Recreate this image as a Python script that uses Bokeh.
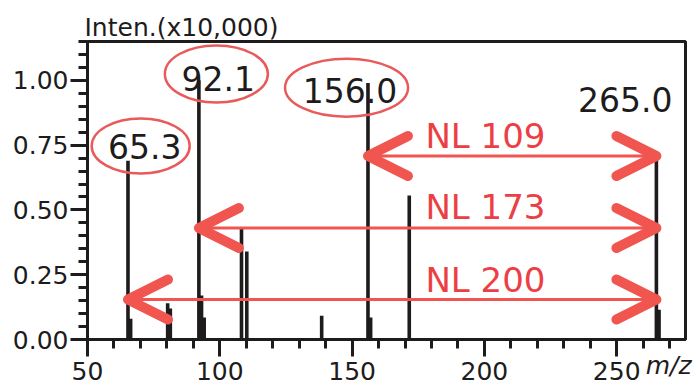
from bokeh.plotting import figure
from bokeh.models import (SingleIntervalTicker, PrintfTickFormatter, Arrow, OpenHead, Range1d)
from bokeh.core.properties import value
from bokeh.embed import file_html
from bokeh.resources import INLINE

# ---- data ----
mz = [65.3, 66.3, 80.3, 81.3, 92.1, 93.1, 94.1, 108.2, 110.2, 138.5, 156.0, 157.0, 171.6, 265.0, 266.0]
inten = [0.69, 0.08, 0.14, 0.12, 1.00, 0.17, 0.085, 0.434, 0.34, 0.092, 0.99, 0.085, 0.556, 0.72, 0.115]

peak_labels = ["65.3", "92.1", "156.0", "265.0"]
peak_label_x = [71.6, 99.4, 149.2, 253.2]
peak_label_y = [0.743, 1.008, 0.961, 0.925]

circled_x = [70.1, 98.7, 147.9]
circled_y = [0.747, 1.025, 0.972]
circled_w = [98, 103, 123]
circled_h = [55, 57, 58]

nl_labels = ["NL 109", "NL 173", "NL 200"]
nl_from = [156.0, 92.1, 65.3]
nl_to = [265.0, 265.0, 265.0]
nl_y = [0.708, 0.43, 0.154]
nl_label_x = [200.4, 200.4, 200.4]
nl_label_y = [0.786, 0.510, 0.230]

y_title = "Inten.(x10,000)"
x_title = "m/z"
x_ticks_interval = 50
y_ticks_interval = 0.25

BLACK = "#1e1b1c"
RED_ARROW = "#f05550"
RED_TEXT = "#ec3f45"
RED_ELL = "#e95a5a"
FONT = "DejaVu Sans"

p = figure(width=698, height=385, x_range=Range1d(50, 276), y_range=Range1d(0, 1.15),
           output_backend="svg", toolbar_location=None,
           min_border_left=87, min_border_right=13, min_border_top=41, min_border_bottom=46)
p.background_fill_color = "white"
p.border_fill_color = "white"
p.outline_line_color = BLACK
p.outline_line_width = 3
p.xgrid.visible = False
p.ygrid.visible = False

p.title.text = y_title
p.title.text_font = FONT
p.title.text_font_size = "25px"
p.title.text_font_style = "normal"
p.title.text_color = BLACK
p.title.align = "left"
p.title.offset = -3
p.title.standoff = 0

for ax in (p.xaxis[0], p.yaxis[0]):
    ax.axis_line_color = BLACK
    ax.axis_line_width = 3
    ax.major_tick_line_color = BLACK
    ax.major_tick_line_width = 3
    ax.minor_tick_line_color = BLACK
    ax.minor_tick_line_width = 3
    ax.major_tick_in = 0
    ax.minor_tick_in = 0
    ax.major_tick_out = 17
    ax.minor_tick_out = 9
    ax.major_label_text_font = FONT
    ax.major_label_text_font_size = "25px"
    ax.major_label_text_color = BLACK

p.xaxis[0].ticker = SingleIntervalTicker(interval=x_ticks_interval, num_minor_ticks=5)
p.yaxis[0].ticker = SingleIntervalTicker(interval=y_ticks_interval, num_minor_ticks=5)
p.yaxis[0].formatter = PrintfTickFormatter(format="%.2f")
p.xaxis[0].major_label_standoff = 5
p.yaxis[0].major_label_standoff = 2

# x-axis caption sits at the right end of the tick-label row (pushed right with no-break spaces)
xa = p.xaxis[0]
xa.axis_label = "\u00a0" * 71 + x_title
xa.axis_label_text_font = FONT
xa.axis_label_text_font_size = "25px"
xa.axis_label_text_font_style = "italic"
xa.axis_label_text_color = BLACK
xa.axis_label_standoff = -32

# peaks
p.segment(x0=mz, y0=[0] * len(mz), x1=mz, y1=inten, line_color=BLACK, line_width=3.6)

# arrows
for x0, x1, y in zip(nl_from, nl_to, nl_y):
    p.add_layout(Arrow(
        x_start=x0, y_start=y, x_end=x1, y_end=y,
        line_color=RED_ARROW, line_width=3,
        start=OpenHead(size=40, line_color=RED_ARROW, line_width=10, line_cap="round", line_join="round"),
        end=OpenHead(size=40, line_color=RED_ARROW, line_width=10, line_cap="round", line_join="round")))

p.text(x=nl_label_x, y=nl_label_y, text=nl_labels, text_color=RED_TEXT,
       text_font=value(FONT), text_font_size="34px", text_align="center", text_baseline="middle")

# peak labels
p.text(x=peak_label_x, y=peak_label_y, text=peak_labels, text_color=BLACK,
       text_font=value(FONT), text_font_size="33px", text_align="center", text_baseline="middle")

p.ellipse(x=circled_x, y=circled_y, width=circled_w, height=circled_h,
          width_units="screen", height_units="screen",
          fill_color=None, line_color=RED_ELL, line_width=2.5)

open("out.html", "w").write(file_html(p, INLINE))
